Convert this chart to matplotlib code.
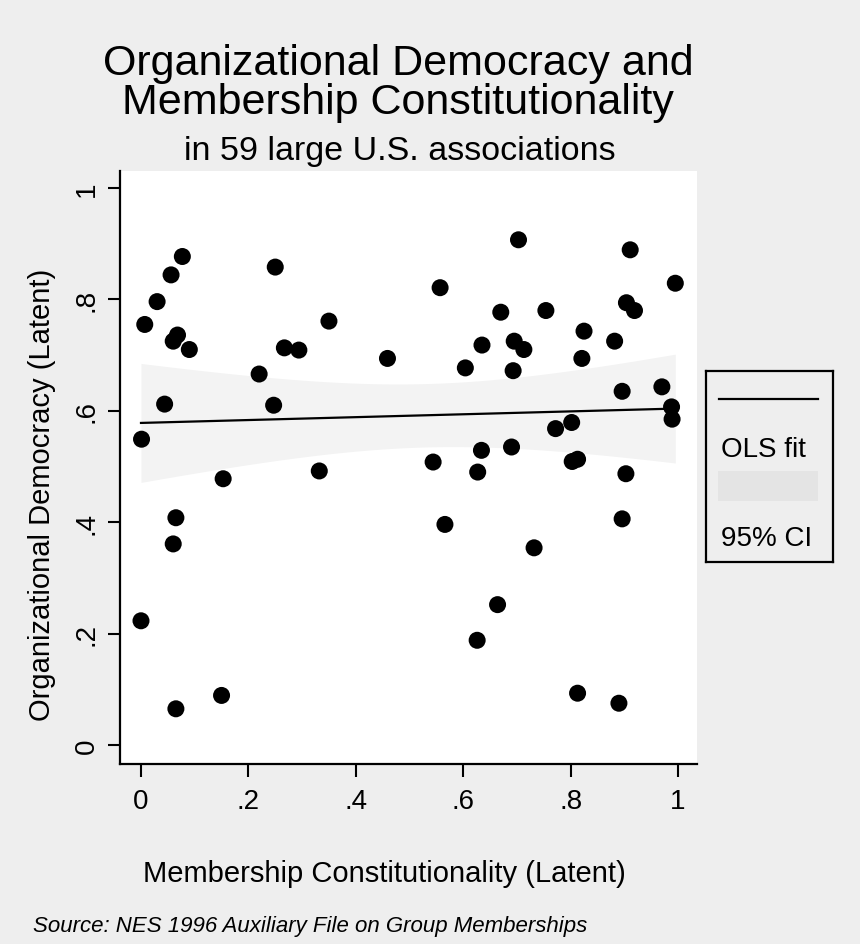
import numpy as np
import matplotlib
matplotlib.use("Agg")
import matplotlib.pyplot as plt
from matplotlib.patches import Rectangle

plt.rcParams['font.family'] = ['Liberation Sans', 'DejaVu Sans']

# ---- data ----
constitutionality = [0.077, 0.056, 0.030, 0.007, 0.068, 0.060, 0.090, 0.250, 0.350, 0.267,
                     0.294, 0.459, 0.220, 0.044, 0.247, 0.001, 0.332, 0.703, 0.911, 0.557,
                     0.995, 0.904, 0.919, 0.670, 0.754, 0.825, 0.882, 0.635, 0.695, 0.713,
                     0.604, 0.693, 0.821, 0.896, 0.970, 0.988, 0.989, 0.772, 0.802, 0.634,
                     0.690, 0.544, 0.627, 0.803, 0.813, 0.903, 0.566, 0.896, 0.732, 0.664,
                     0.626, 0.813, 0.890, 0.153, 0.065, 0.060, 0.000, 0.150, 0.065]
democracy = [0.877, 0.844, 0.796, 0.755, 0.736, 0.725, 0.710, 0.858, 0.761, 0.713,
             0.709, 0.694, 0.666, 0.612, 0.610, 0.549, 0.492, 0.907, 0.889, 0.821,
             0.829, 0.794, 0.780, 0.777, 0.780, 0.743, 0.725, 0.718, 0.725, 0.710,
             0.677, 0.672, 0.694, 0.635, 0.643, 0.607, 0.585, 0.568, 0.579, 0.529,
             0.535, 0.508, 0.490, 0.509, 0.513, 0.487, 0.396, 0.406, 0.354, 0.252,
             0.188, 0.093, 0.075, 0.478, 0.408, 0.361, 0.223, 0.089, 0.065]
tick_values = [0, 0.2, 0.4, 0.6, 0.8, 1]
tick_labels = ["0", ".2", ".4", ".6", ".8", "1"]

title_line1 = "Organizational Democracy and"
title_line2 = "Membership Constitutionality"
subtitle = "in 59 large U.S. associations"
xlabel = "Membership Constitutionality (Latent)"
ylabel = "Organizational Democracy (Latent)"
note = "Source: NES 1996 Auxiliary File on Group Memberships"
legend_labels = ["OLS fit", "95% CI"]

# ---- OLS fit with 95% CI of the mean ----
x = np.array(constitutionality)
y = np.array(democracy)
n = len(x)
b1, b0 = np.polyfit(x, y, 1)
resid = y - (b0 + b1 * x)
s = np.sqrt(np.sum(resid ** 2) / (n - 2))
xbar = x.mean()
sxx = np.sum((x - xbar) ** 2)
t_crit = 2.002  # t(57), 97.5%
xg = np.linspace(x.min(), x.max(), 200)
yg = b0 + b1 * xg
se = s * np.sqrt(1.0 / n + (xg - xbar) ** 2 / sxx)
lo, hi = yg - t_crit * se, yg + t_crit * se

# ---- figure ----
W, H = 860, 945
BG = '#eeeeee'
CI = '#f3f3f3'
fig = plt.figure(figsize=(W / 100, H / 100), dpi=100, facecolor=BG)

def fx(px):
    return px / W

def fy(py):
    return 1 - py / H

ax = fig.add_axes([fx(120), fy(765), fx(697) - fx(120), fy(172) - fy(765)])
ax.set_facecolor('white')
ax.fill_between(xg, lo, hi, color=CI, linewidth=0, zorder=1)
ax.plot(xg, yg, color='black', linewidth=1.6, zorder=2)
ax.scatter(x, y, s=150, color='black', edgecolors='none', zorder=3)

ax.set_xlim(-0.0391, 1.0354)
ax.set_ylim(-0.0341, 1.0305)
ax.set_xticks(tick_values)
ax.set_xticklabels(tick_labels)
ax.set_yticks(tick_values)
ax.set_yticklabels(tick_labels, rotation=90, va='center', ha='center')
for sp in ['top', 'right']:
    ax.spines[sp].set_visible(False)
for sp in ['left', 'bottom']:
    ax.spines[sp].set_linewidth(1.6)
ax.tick_params(axis='both', length=9, width=1.5, labelsize=20, colors='black')
ax.tick_params(axis='x', pad=8)
ax.tick_params(axis='y', pad=15)

# titles
fig.text(fx(398), fy(75), title_line1, ha='center', va='baseline', fontsize=31)
fig.text(fx(398), fy(114), title_line2, ha='center', va='baseline', fontsize=31)
fig.text(fx(400), fy(160), subtitle, ha='center', va='baseline', fontsize=24.5)

# axis titles
fig.text(fx(42), fy(495), ylabel, rotation=90, ha='center', va='center', fontsize=21)
fig.text(fx(384), fy(874), xlabel, ha='center', va='center', fontsize=21)
fig.text(fx(33), fy(932), note, ha='left', va='baseline', fontsize=16, style='italic')

# legend (Stata-style stacked key)
lg = fig.add_axes([fx(706), fy(563), fx(833) - fx(706), fy(372) - fy(563)])
lg.set_xlim(0, 127)
lg.set_ylim(191, 0)
lg.set_facecolor(BG)
for sp in lg.spines.values():
    sp.set_linewidth(1.6)
lg.set_xticks([])
lg.set_yticks([])
lg.plot([13, 112], [28, 28], color='black', linewidth=1.6)
lg.text(15, 78, legend_labels[0], ha='left', va='center', fontsize=20)
lg.add_patch(Rectangle((12, 100), 100, 30, color='#e4e4e4', linewidth=0))
lg.text(15, 167, legend_labels[1], ha='left', va='center', fontsize=20)

fig.savefig('out.png', dpi=100, facecolor=BG)
